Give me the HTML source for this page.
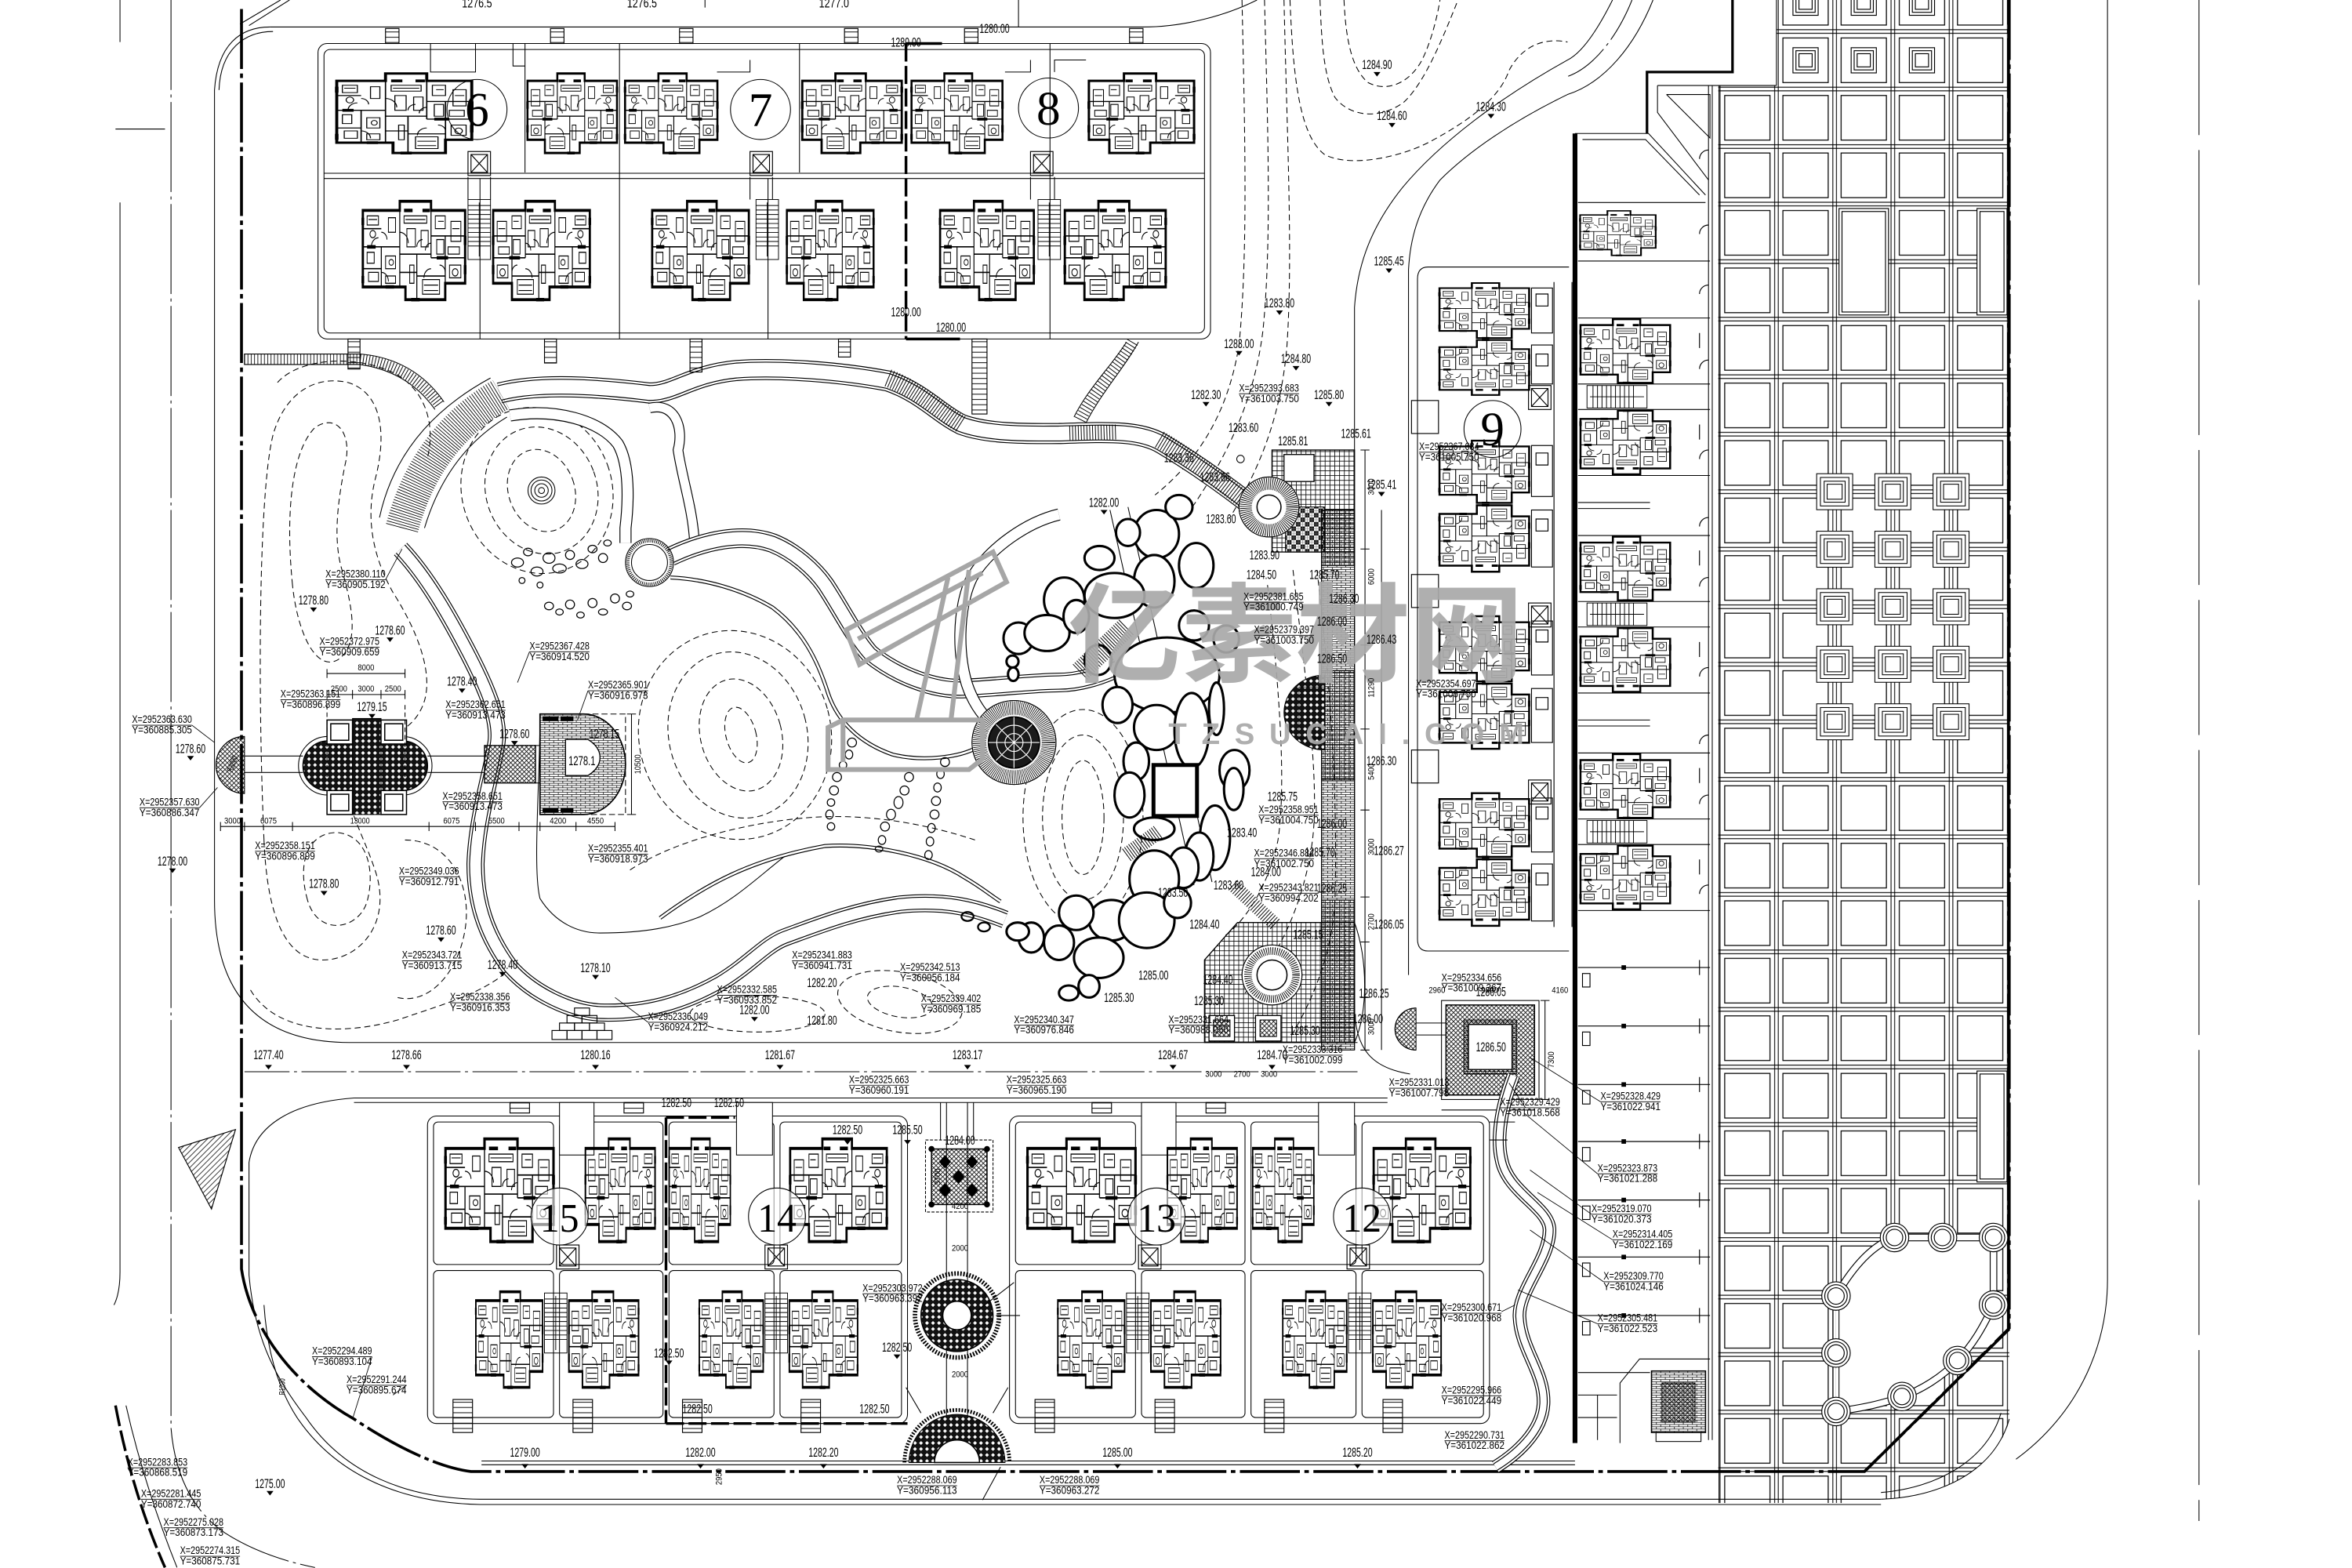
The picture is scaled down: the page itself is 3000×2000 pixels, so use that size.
<!DOCTYPE html>
<html><head><meta charset="utf-8"><title>Residential site plan</title>
<style>
html,body{margin:0;padding:0;background:#fff;overflow:hidden}
svg{display:block}
text{font-family:"Liberation Sans","Noto Sans CJK SC",sans-serif;fill:#000;stroke:none}
.e{font-size:8.5px}
.c{font-size:7.2px}
.d{font-size:6px}
.n{font-family:"Liberation Serif",serif;font-size:32px}
.m{font-family:"Liberation Serif",serif;font-size:27px}
.w{font-family:"Liberation Sans","Noto Sans CJK SC",sans-serif;font-weight:700}
</style></head><body>
<svg xmlns="http://www.w3.org/2000/svg" width="3000" height="2000" viewBox="0 0 1568 1045.33">
<defs>
<pattern id="gc" patternUnits="userSpaceOnUse" x="1145.5" y="21" width="38.8" height="38.35">
<path d="M1.2,0V38.35M37.6,0V38.35M0,1.2H38.8M0,37.15H38.8" stroke="#000" stroke-width="0.55" fill="none"/>
<rect x="4.3" y="4.3" width="30.2" height="29.75" stroke="#000" stroke-width="0.65" fill="none"/>
</pattern>
<pattern id="dia" patternUnits="userSpaceOnUse" width="4" height="4">
<rect width="4" height="4" fill="#111"/><path d="M2,0.7L3.3,2L2,3.3L0.7,2Z" fill="#fff"/>
</pattern>
<pattern id="grd" patternUnits="userSpaceOnUse" width="3.2" height="3.2">
<path d="M0,0.2H3.2M0.2,0V3.2" stroke="#000" stroke-width="0.45" fill="none"/>
</pattern>
<pattern id="xh" patternUnits="userSpaceOnUse" width="3" height="3">
<path d="M0,0L3,3M3,0L0,3" stroke="#000" stroke-width="0.4" fill="none"/>
</pattern>
<pattern id="ht" patternUnits="userSpaceOnUse" width="2.6" height="2.6" patternTransform="rotate(45)">
<path d="M0.3,0V2.6" stroke="#000" stroke-width="0.4" fill="none"/>
</pattern>
<pattern id="brk" patternUnits="userSpaceOnUse" width="6" height="3">
<path d="M0,0.2H6M0,1.7H6M0.2,0.2V1.7M3.2,1.7V3" stroke="#000" stroke-width="0.38" fill="none"/>
</pattern>
<pattern id="chk" patternUnits="userSpaceOnUse" width="6" height="6">
<rect width="6" height="6" fill="#fff"/><rect width="3" height="3" fill="#111"/><rect x="3" y="3" width="3" height="3" fill="#111"/>
<path d="M0,1.5H6M1.5,0V6M0,4.5H6M4.5,0V6" stroke="#777" stroke-width="0.3"/>
</pattern>
<pattern id="vl" patternUnits="userSpaceOnUse" width="2.2" height="10">
<path d="M0.3,0V10" stroke="#000" stroke-width="0.45"/>
</pattern>
<pattern id="hl" patternUnits="userSpaceOnUse" width="10" height="3.5">
<path d="M0,0.3H10" stroke="#000" stroke-width="0.5"/>
</pattern>
<g id="apt" fill="none" stroke="#000">
<path stroke-width="1.6" d="M2,6H28V1H50V6H74V46H60V55H32V48H2Z"/>
<path stroke-width="0.7" d="M28,6V48M50,6V32M2,26H28M50,32H74M28,30H50M60,32V46M15,26V48M40,30V55M40,42H60M2,38H15M2,16H15M50,20H74M60,20V32M28,40H40"/>
<path stroke-width="0.55" d="M5,9h8v5h-8zM31,9h16v4h-16zM53,9h7v7h-7zM64,12h7v11h-7zM35,36h3v10h-3zM18,31h7v7h-7zM5,29h5v6h-5zM44,44h12v8h-12zM63,36h8v7h-8zM20,10h5v8h-5zM54,22h5v8h-5zM6,40h7v5h-7zM18,42h7v4h-7zM62,26h8v4h-8zM33,16h6v10h-6zM43,17h5v9h-5z"/>
<path stroke-width="0.55" d="M28,18a6,6 0 0 1 6,6M50,38a5,5 0 0 0 -5,5M15,40a5,5 0 0 1 5,5M60,40a4,4 0 0 0 -4,-4M8,26a5,5 0 0 1 5,-5M40,26a4,4 0 0 1 4,-4M15,18a4,4 0 0 1 4,4M50,24a4,4 0 0 0 -4,4"/>
<circle cx="9" cy="19" r="2" stroke-width="0.55"/><circle cx="67" cy="40" r="2" stroke-width="0.55"/><circle cx="22" cy="34.5" r="1.6" stroke-width="0.5"/>
<path stroke-width="1.9" d="M31,6h6M44,6h5M5,26h6M54,32h8M2,42v4M74,20v5M36,55h6M2,10v4M74,36v5M18,48h6"/>
<path stroke-width="0.5" d="M6,11h6M32,11h14M55,12h4M65,16h5M45,47h10M45,50h10"/>
</g>
<g id="elev" fill="none" stroke="#000" stroke-width="0.6"><rect width="15" height="16"/><rect x="2" y="2" width="11" height="12"/><path d="M2,2L13,14M13,2L2,14"/></g>
<g id="stair" fill="none" stroke="#000" stroke-width="0.5"><rect width="15" height="40"/><path d="M7.5,2V38M0,4H15M0,7H15M0,10H15M0,13H15M0,16H15M0,19H15M0,22H15M0,25H15M0,28H15M0,31H15"/></g>
<g id="stairh" fill="none" stroke="#000" stroke-width="0.5"><rect width="40" height="15"/><path d="M2,7.5H38M4,0V15M7,0V15M10,0V15M13,0V15M16,0V15M19,0V15M22,0V15M25,0V15M28,0V15M31,0V15"/></g>
<path id="tri" d="M-2.3,0H2.3L0,3Z" fill="#000" stroke="none"/>
<path id="tp" d="M333,262C360,255 400,258 433,262C450,262 460,250 491,247C520,245 560,248 592,254C615,262 625,275 641,283C660,290 690,289 706,289C740,288 760,287 775,296C795,308 815,322 833,336"/>
<path id="lp" d="M340,277C370,272 400,280 412,296C420,310 419,335 417,352L417,362"/>
<path id="lp2" d="M433,272C450,268 456,285 452,300C455,320 462,340 463,362"/>
<path id="us" d="M447,371C470,360 495,355 515,362C530,368 543,380 550,390C560,405 570,425 580,436C600,452 625,460 643,459C665,458 690,455 706,455C720,455 735,450 745,445"/>
<path id="rd" d="M706,343C685,348 660,365 648,385C638,405 638,440 646,460C652,475 660,482 668,488"/>
<path id="le" d="M447,385C470,386 495,393 515,405C535,420 545,440 552,462C558,480 572,495 595,503C615,508 640,505 652,498"/>
<path id="ls" d="M267,366C285,385 300,412 312,435C325,460 333,480 331,495C328,515 318,545 317,576C317,600 323,622 340,645C355,662 380,674 400,675C430,676 455,669 480,655C500,643 510,630 523,625C545,617 570,607 600,603C630,600 650,605 670,613"/>
<path id="ls2" d="M440,612C470,590 500,573 550,564C580,562 620,570 643,585C655,592 662,598 667,601"/>
<path id="cv" d="M1009,717C1000,740 998,760 1001,773C1005,795 1033,805 1033,820C1033,840 1012,860 1013,878C1014,900 1030,915 1029,936C1028,955 1010,970 997,978"/>
<path id="rg" d="M1224,864C1235,845 1248,830 1263,825H1329V870C1322,885 1315,897 1305,907C1295,918 1280,927 1268,931C1255,936 1240,939 1224,941"/>
</defs>

<rect width="1568" height="1046" fill="#fff"/>

<g fill="none" stroke="#000" stroke-width="0.55">

<!-- ============ outer roads / site lines ============ -->
<path d="M80,0V28M80,135V848Q80,862 76,870M77,86H110"/>
<path d="M77,937Q88,995 110,1045" stroke-width="1.8" stroke-dasharray="14 3"/>
<path d="M84,937Q96,990 118,1045"/>
<path d="M114,0V952Q118,1000 150,1022Q175,1038 210,1045" stroke-dasharray="60 3 2 3"/>
<path d="M180,18C160,18 145,30 143,60V600C143,660 170,695 233,695H905"/>
<path d="M182,21C163,21 147,33 146,60"/>
<path d="M180,18H762C790,18 818,10 838,0"/>
<path d="M160,16L187,0M166,17L193,0M679,0V18M420,0V5M470,0V5"/>
<path d="M161,6V846C166,880 190,920 236,946C260,962 290,978 314,981H1243L1339,886V0" stroke-width="1.9" stroke-dasharray="40 3 3 3"/>
<path d="M1155,0V48H1098V89" stroke-width="1.7"/>
<path d="M1405,0V853C1405,935 1340,1000 1254,1003H320C270,1002 225,985 198,945C185,925 178,900 176,870"/>
<path d="M1254,999.5H320C272,999 230,983 204,945"/>
<path d="M1466,0V1014" stroke-dasharray="90 10"/>
<path d="M321,974H1050M321,976.5H1050"/>
<path d="M236,732H925M236,735H925"/>
<path d="M236,732C195,735 170,750 166,775V850C170,895 185,920 204,945"/>
<path d="M163,714.5H905" stroke-dasharray="30 3 2 3"/>
<path d="M1075,0C1065,20 1055,35 1045,40C1000,65 960,95 935,125C915,150 905,175 903,205V670C903,700 915,712 940,716"/>
<path d="M1102,0C1090,30 1070,55 1045,63C1010,80 980,100 960,120C945,140 940,160 939,180V650"/>
<path d="M1088,0C1078,25 1062,45 1045,51" stroke-dasharray="30 3 2 3"/>

<!-- ============ contours (dashed) ============ -->
<g stroke-dasharray="4 2.5" stroke-width="0.55">
<path d="M880,0C881,25 882,50 890,65C900,78 920,80 936,68C950,55 962,25 972,0"/>
<path d="M896,0C897,22 900,45 912,55C925,62 940,55 948,40C954,28 958,12 960,0"/>
<path d="M860,0C862,50 866,90 883,103C900,112 935,105 956,93C980,80 1000,65 1006,47C1015,30 1030,25 1045,28"/>
<path d="M843,0C845,80 848,160 842,220C836,270 815,310 790,345"/>
<path d="M856,0C858,90 862,170 858,230C854,280 838,315 820,345"/>
<path d="M828,0C830,90 832,170 826,230C818,280 795,310 770,330"/>
<path d="M862,380C870,450 880,520 875,560C870,600 852,640 830,662"/>
<path d="M878,380C886,450 892,520 890,600C888,640 872,672 860,692"/>
<path d="M845,390C852,450 858,520 852,560C846,590 830,615 815,625"/>
<path d="M176,560C172,470 172,330 182,290C190,262 210,250 232,255C255,262 258,290 250,320C244,345 248,370 262,395C278,420 290,450 282,470C272,495 245,490 235,510C225,530 240,550 250,580C262,615 240,640 215,640C190,640 178,610 176,560Z"/>
<path d="M195,390C190,340 195,300 210,285C225,275 235,290 230,310C225,335 222,360 228,380C235,405 240,430 225,440C210,448 198,420 195,390Z"/>
<path d="M205,600C198,575 205,555 225,555C245,557 250,580 245,600C240,620 212,625 205,600Z"/>
<path d="M167,660C185,690 230,690 265,680C300,668 330,660 345,640"/>
<path d="M185,255C200,238 240,236 265,250C285,262 290,285 285,305"/>
<path d="M270,560C300,560 315,590 310,620C305,650 285,670 265,665"/>
<ellipse cx="361" cy="327" rx="22" ry="28" transform="rotate(-20 361 327)"/>
<ellipse cx="361" cy="327" rx="37" ry="43" transform="rotate(-20 361 327)"/>
<ellipse cx="358" cy="327" rx="50" ry="56" transform="rotate(-20 358 327)"/>
<ellipse cx="494" cy="490" rx="10" ry="19" transform="rotate(-15 494 490)"/>
<ellipse cx="494" cy="490" rx="27" ry="38" transform="rotate(-15 494 490)"/>
<ellipse cx="492" cy="490" rx="46" ry="56" transform="rotate(-15 492 490)"/>
<ellipse cx="490" cy="490" rx="64" ry="70" transform="rotate(-15 490 490)"/>
<ellipse cx="722" cy="545" rx="14" ry="38"/>
<ellipse cx="722" cy="545" rx="27" ry="55"/>
<ellipse cx="722" cy="545" rx="40" ry="72"/>
<ellipse cx="600" cy="668" rx="22" ry="10" transform="rotate(10 600 668)"/>
<ellipse cx="600" cy="668" rx="42" ry="20" transform="rotate(10 600 668)"/>
<ellipse cx="505" cy="676" rx="45" ry="12"/>
<path d="M420,580C450,560 500,548 540,545C580,542 620,550 650,560"/>
</g>

<!-- ============ park paths ============ -->
<g stroke-linecap="butt" fill="none">
<use href="#tp" stroke="#000" stroke-width="14"/>
<use href="#tp" stroke="#fff" stroke-width="12.8"/>
<use href="#tp" stroke="#000" stroke-width="10.5"/>
<use href="#tp" stroke="#fff" stroke-width="9.3"/>
<path d="M592,252C612,260 625,273 641,283" stroke="#000" stroke-width="12" stroke-dasharray="0.5 1.4"/>
<path d="M773,293C795,306 815,322 833,336" stroke="#000" stroke-width="12" stroke-dasharray="0.5 1.4"/>
<path d="M713,289L745,288" stroke="#000" stroke-width="10" stroke-dasharray="0.5 1.4"/>
<use href="#lp" stroke="#000" stroke-width="8"/>
<use href="#lp" stroke="#fff" stroke-width="6.8"/>
<use href="#lp2" stroke="#000" stroke-width="7"/>
<use href="#lp2" stroke="#fff" stroke-width="5.8"/>
<use href="#us" stroke="#000" stroke-width="13"/>
<use href="#us" stroke="#fff" stroke-width="11.8"/>
<use href="#us" stroke="#000" stroke-width="9.5"/>
<use href="#us" stroke="#fff" stroke-width="8.3"/>
<use href="#rd" stroke="#000" stroke-width="8"/>
<use href="#rd" stroke="#fff" stroke-width="6.8"/>
<use href="#le" stroke="#000" stroke-width="2.6"/>
<use href="#le" stroke="#fff" stroke-width="1.4"/>
<use href="#ls" stroke="#000" stroke-width="12"/>
<use href="#ls" stroke="#fff" stroke-width="10.8"/>
<use href="#ls" stroke="#000" stroke-width="8.5"/>
<use href="#ls" stroke="#fff" stroke-width="7.3"/>
<use href="#ls2" stroke="#000" stroke-width="2.6"/>
<use href="#ls2" stroke="#fff" stroke-width="1.4"/>
<path d="M360,478C360,520 355,580 360,599C370,615 385,622 400,622C430,622 450,618 467,611C490,600 505,585 523,571" stroke="#000" stroke-width="0.55"/>
<path d="M740,340L796,590M752,338L808,588" stroke="#000" stroke-width="0.55"/>
</g>

<path d="M268,352Q284,292 334,263" stroke-width="22" stroke-dasharray="0.45 1.3"/>
<path d="M253,345Q266,285 327,252M283,352Q298,302 338,278"/>
<rect x="163" y="236" width="77" height="7" fill="url(#vl)"/>
<rect x="163" y="236" width="77" height="7"/>
<path d="M240,239.5C262,242 280,252 293,270" stroke-width="7" stroke-dasharray="0.5 1.5"/>
<path d="M240,236C264,238 283,249 296,268M240,243C261,246 278,256 290,273"/>
<path d="M755,228C745,245 730,260 720,280" stroke-width="8" stroke-dasharray="0.5 1.8"/>
<path d="M759,228C749,246 734,262 724,282M751,228C741,244 726,258 716,278"/>

<circle cx="361" cy="327" r="2"/><circle cx="361" cy="327" r="4.5"/><circle cx="361" cy="327" r="7"/><circle cx="361" cy="327" r="9"/>

<circle cx="433" cy="375" r="14.5" fill="#fff" stroke-width="2.2" stroke-dasharray="0.5 0.8"/>
<circle cx="433" cy="375" r="12" fill="#fff"/>
<circle cx="433" cy="375" r="16"/>

<g stroke-width="0.65">
<ellipse cx="345" cy="375" rx="4" ry="3"/><ellipse cx="352" cy="368" rx="3" ry="2.5"/><ellipse cx="358" cy="381" rx="4" ry="3"/><ellipse cx="366" cy="372" rx="4" ry="3.5"/><ellipse cx="373" cy="379" rx="4.5" ry="3"/><ellipse cx="380" cy="370" rx="3" ry="3"/><ellipse cx="388" cy="376" rx="4" ry="3"/><ellipse cx="395" cy="366" rx="3" ry="2.5"/><ellipse cx="402" cy="372" rx="3" ry="3"/><ellipse cx="405" cy="362" rx="2.5" ry="2"/><ellipse cx="348" cy="387" rx="2" ry="2"/><ellipse cx="360" cy="390" rx="2" ry="2"/>
<ellipse cx="366" cy="404" rx="3" ry="2.5"/><ellipse cx="373" cy="408" rx="2.5" ry="2"/><ellipse cx="380" cy="403" rx="3" ry="3"/><ellipse cx="387" cy="410" rx="2.5" ry="2"/><ellipse cx="395" cy="402" rx="3" ry="3"/><ellipse cx="402" cy="408" rx="3" ry="2"/><ellipse cx="410" cy="399" rx="3" ry="3"/><ellipse cx="418" cy="404" rx="3" ry="2.5"/><ellipse cx="420" cy="396" rx="2.5" ry="2"/>
<ellipse cx="568" cy="495" rx="3" ry="3"/><ellipse cx="566" cy="503" rx="2.5" ry="3"/><ellipse cx="562" cy="510" rx="2.5" ry="2.5"/><ellipse cx="558" cy="518" rx="3" ry="3"/><ellipse cx="556" cy="527" rx="3" ry="3"/><ellipse cx="554" cy="535" rx="2.5" ry="2.5"/><ellipse cx="553" cy="543" rx="2.5" ry="3"/><ellipse cx="554" cy="551" rx="2.5" ry="2.5"/>
<ellipse cx="606" cy="518" rx="3" ry="3"/><ellipse cx="603" cy="527" rx="3" ry="3"/><ellipse cx="599" cy="535" rx="3" ry="4"/><ellipse cx="594" cy="543" rx="3" ry="3.5"/><ellipse cx="590" cy="551" rx="3" ry="3"/><ellipse cx="588" cy="560" rx="2.5" ry="3"/><ellipse cx="586" cy="566" rx="2.5" ry="2"/>
<ellipse cx="630" cy="508" rx="3" ry="3"/><ellipse cx="627" cy="516" rx="2.5" ry="3"/><ellipse cx="625" cy="525" rx="2.5" ry="3"/><ellipse cx="624" cy="534" rx="3" ry="3"/><ellipse cx="623" cy="543" rx="3" ry="3"/><ellipse cx="621" cy="552" rx="2.5" ry="3"/><ellipse cx="620" cy="561" rx="2.5" ry="3"/><ellipse cx="619" cy="570" rx="2.5" ry="3"/>
<ellipse cx="645" cy="611" rx="4" ry="3" stroke-width="1.2"/><ellipse cx="656" cy="618" rx="4" ry="3" stroke-width="1.2"/>
</g>

<!-- ============ left pavilion ============ -->
<path d="M163,491A19,19 0 0 0 163,529Z" fill="url(#xh)"/>
<path d="M163,491A19,19 0 0 0 163,529"/>
<path d="M163,504H202M163,515H202M285,504H323M285,515H323"/>
<rect x="199" y="491" width="89" height="39" rx="19.5"/>
<rect x="202" y="494" width="83" height="33" rx="16.5" fill="url(#dia)" stroke-width="0.8"/>
<rect x="235" y="479" width="19" height="64" fill="url(#dia)"/>
<g stroke-width="0.8">
<rect x="218" y="480" width="17" height="16" fill="#fff"/><rect x="220.5" y="482.5" width="12" height="11"/>
<rect x="254" y="480" width="17" height="16" fill="#fff"/><rect x="256.5" y="482.5" width="12" height="11"/>
<rect x="218" y="527" width="17" height="16" fill="#fff"/><rect x="220.5" y="529.5" width="12" height="11"/>
<rect x="254" y="527" width="17" height="16" fill="#fff"/><rect x="256.5" y="529.5" width="12" height="11"/>
</g>
<rect x="323" y="497" width="34" height="25" fill="url(#xh)" stroke-width="0.7"/>
<rect x="357" y="497" width="3" height="25"/>
<path d="M360,476H389A28,33.5 0 0 1 389,543H360Z" fill="url(#brk)" stroke-width="0.9"/>
<path d="M377,493H392Q400,498 400,505Q400,512 392,517H377Z" fill="#fff" stroke-width="0.7"/>
<rect x="362" y="478" width="10" height="2.5" fill="#000"/><rect x="374" y="478" width="8" height="2.5" fill="#000"/><rect x="362" y="539" width="10" height="2.5" fill="#000"/><rect x="374" y="539" width="8" height="2.5" fill="#000"/>
<path d="M389,476H417V543H389" stroke-dasharray="4 2"/>
<path d="M421,476V543M418,476H424M418,543H424"/>
<path d="M147,551H410M147,548V554M163,548V554M195,548V554M286,548V554M317,548V554M346,548V554M360,548V554M384,548V554M410,548V554"/>
<path d="M218,463H270M218,460V466M235,460V466M254,460V466M270,460V466M218,449H270M218,446V452M270,446V452"/>
<path d="M218,470V520M270,470V520" stroke-dasharray="3 2"/>

<g stroke-width="0.6">
<rect x="383" y="672" width="10" height="5"/>
<rect x="378" y="677" width="10" height="5"/><rect x="388" y="677" width="10" height="5"/>
<rect x="373" y="682" width="10" height="5"/><rect x="383" y="682" width="10" height="5"/><rect x="393" y="682" width="10" height="5"/>
<rect x="368" y="687" width="10" height="6"/><rect x="378" y="687" width="10" height="6"/><rect x="388" y="687" width="10" height="6"/><rect x="398" y="687" width="10" height="6"/>
</g>

<!-- ============ round plaza ============ -->
<circle cx="676" cy="495" r="28" fill="#fff"/>
<circle cx="676" cy="495" r="23" stroke-width="9" stroke-dasharray="0.4 0.75"/>
<circle cx="676" cy="495" r="17" fill="#1a1a1a" stroke-width="1"/>
<g stroke="#fff" stroke-width="0.6"><circle cx="676" cy="495" r="6"/><circle cx="676" cy="495" r="11.5"/><path d="M676,478V512M659,495H693M664,483L688,507M688,483L664,507"/></g>
<circle cx="676" cy="495" r="28"/>

<!-- ============ rockery ============ -->
<g fill="#fff" stroke-width="1.6" stroke-linejoin="round">
<ellipse cx="771" cy="356" rx="15" ry="16"/><ellipse cx="797.5" cy="377" rx="11.5" ry="15"/><ellipse cx="769.5" cy="387.5" rx="13.5" ry="17.5"/><ellipse cx="733" cy="372" rx="10" ry="8"/><ellipse cx="709.5" cy="400" rx="13.5" ry="15"/><ellipse cx="743" cy="397" rx="20" ry="15"/><ellipse cx="679" cy="425.5" rx="10" ry="10.5"/><ellipse cx="675" cy="441" rx="4" ry="4"/><ellipse cx="675.5" cy="449.5" rx="3.5" ry="4.5"/><ellipse cx="698" cy="422" rx="15" ry="12"/><ellipse cx="717.5" cy="411" rx="8.5" ry="11"/><ellipse cx="796" cy="417" rx="10" ry="10"/><ellipse cx="817.5" cy="426" rx="8.5" ry="9"/><ellipse cx="778" cy="450" rx="35" ry="25"/><ellipse cx="771" cy="485" rx="15" ry="15"/><ellipse cx="794.5" cy="487" rx="11.5" ry="25"/><ellipse cx="811" cy="472.5" rx="5" ry="17.5"/><ellipse cx="757.5" cy="507.5" rx="8.5" ry="12.5"/><ellipse cx="823" cy="513.5" rx="10" ry="13.5"/><ellipse cx="753" cy="530" rx="10" ry="15"/><ellipse cx="822.5" cy="526" rx="6.5" ry="14"/><ellipse cx="810" cy="558.5" rx="10" ry="21.5"/><ellipse cx="799.5" cy="571" rx="9.5" ry="16"/><ellipse cx="769.5" cy="552.5" rx="13.5" ry="7.5"/><ellipse cx="789" cy="578.5" rx="10" ry="13.5"/><ellipse cx="769.5" cy="586" rx="16.5" ry="19"/><ellipse cx="741" cy="613.5" rx="15" ry="13.5"/><ellipse cx="717.5" cy="608.5" rx="11.5" ry="11.5"/><ellipse cx="706" cy="628.5" rx="10" ry="11.5"/><ellipse cx="687.5" cy="625" rx="8.5" ry="10"/><ellipse cx="678.5" cy="621" rx="7.5" ry="6"/><ellipse cx="732.5" cy="638.5" rx="16.5" ry="13.5"/><ellipse cx="726" cy="657.5" rx="7" ry="7.5"/><ellipse cx="712.5" cy="662" rx="6.5" ry="5"/><ellipse cx="764.5" cy="613.5" rx="18.5" ry="18.5"/><ellipse cx="745" cy="470" rx="10" ry="12"/><ellipse cx="732" cy="440" rx="9" ry="10"/>
<ellipse cx="786" cy="338" rx="9" ry="8"/><ellipse cx="752" cy="355" rx="8" ry="9"/><ellipse cx="785" cy="602" rx="9" ry="10"/>
</g>
<rect x="769" y="510" width="29" height="34" fill="#fff" stroke-width="2.6"/>
<path d="M720,448L751,418" stroke-width="14" stroke-dasharray="0.5 1.2"/>
<path d="M751,570L773,554" stroke-width="10" stroke-dasharray="0.5 1.2"/>
<path d="M822,590L851,617" stroke-width="9" stroke-dasharray="0.5 1.3"/>

<!-- ============ plazas right of rockery ============ -->
<rect x="848" y="300" width="55" height="68" fill="url(#grd)" stroke-width="0.7"/>
<rect x="857" y="338" width="26" height="30" fill="url(#chk)"/>
<rect x="856" y="303" width="20" height="18" fill="#fff" stroke-width="0.7"/>
<circle cx="846" cy="338" r="20" fill="#fff"/>
<circle cx="846" cy="338" r="15.5" stroke-width="8" stroke-dasharray="0.45 0.8"/>
<circle cx="846" cy="338" r="8" fill="#fff" stroke-width="0.8"/>
<circle cx="846" cy="338" r="20"/>
<circle cx="827" cy="306" r="2.5"/>
<rect x="881" y="340" width="22" height="360" fill="url(#brk)"/>
<path d="M881,340V700M903,340V700"/>
<rect x="881" y="340" width="22" height="37" fill="url(#grd)"/>
<rect x="881" y="447" width="22" height="73" fill="url(#grd)"/>
<rect x="881" y="600" width="22" height="95" fill="url(#grd)"/>
<path d="M883,450A27,25 0 0 0 883,500Z" fill="url(#dia)"/>
<rect x="866" y="458" width="17" height="34" fill="url(#dia)" opacity="0.8"/>
<path d="M803,640L825,615H903V695H803Z" fill="url(#grd)" stroke-width="0.7"/>
<circle cx="848" cy="650" r="20" fill="#fff"/>
<circle cx="848" cy="650" r="16" stroke-width="5" stroke-dasharray="0.5 0.9"/>
<circle cx="848" cy="650" r="10" fill="#fff" stroke-width="0.8"/>
<circle cx="848" cy="650" r="20"/>
<rect x="806" y="677" width="17" height="17" fill="#fff" stroke-width="0.7"/><rect x="809" y="680" width="11" height="11" fill="url(#xh)"/>
<rect x="837" y="677" width="17" height="17" fill="#fff" stroke-width="0.7"/><rect x="840" y="680" width="11" height="11" fill="url(#xh)"/>
<path d="M903,615C912,640 912,675 903,695"/>
<path d="M910,300V700M907,300H913M907,366H913M907,430H913M907,486H913M907,540H913M907,598H913M907,628H913M907,665H913M907,700H913M921,340V700"/>

<path d="M944,672A14,14 0 0 0 944,700Z" fill="url(#xh)"/>
<path d="M944,672A14,14 0 0 0 944,700"/>
<path d="M944,682H964M944,690H964"/>
<rect x="964" y="670" width="59" height="60" fill="url(#xh)" stroke-width="0.8"/>
<rect x="961" y="667" width="65" height="66"/>
<rect x="976" y="680" width="35" height="36" fill="url(#brk)"/>
<rect x="979" y="683" width="29" height="30" fill="#fff" stroke-width="0.7"/>
<path d="M1030,667V733M1027,667H1033M1027,733H1033M961,740H1023"/>

<!-- ============ top building lot (6,7,8) ============ -->
<rect x="212" y="29" width="595" height="197" rx="6"/>
<rect x="216" y="33" width="587" height="189" rx="4"/>
<path d="M216,115.5H803M216,119H803M413,29V226M700,29V226M320,119V226M512,119V226M350,29V115M533,29V115"/>
<path d="M604,29V226" stroke-width="1.8" stroke-dasharray="12 3"/>
<path d="M604,29H628M604,226H640" stroke-width="1.8"/>
<use href="#apt" transform="translate(222,48) scale(1.25,0.982)"/>
<use href="#apt" transform="translate(413,48) scale(-0.829,0.982)"/>
<use href="#apt" transform="translate(415,48) scale(0.855,0.982)"/>
<use href="#apt" transform="translate(603,48) scale(-0.921,0.982)"/>
<use href="#apt" transform="translate(606,48) scale(0.842,0.982)"/>
<use href="#apt" transform="translate(798,48) scale(-0.974,0.982)"/>
<use href="#apt" transform="translate(240,133) scale(0.947,1.214)"/>
<use href="#apt" transform="translate(395,133) scale(-0.895,1.214)"/>
<use href="#apt" transform="translate(433,133) scale(0.895,1.214)"/>
<use href="#apt" transform="translate(584,133) scale(-0.803,1.214)"/>
<use href="#apt" transform="translate(625,133) scale(0.868,1.214)"/>
<use href="#apt" transform="translate(779,133) scale(-0.934,1.214)"/>
<use href="#elev" transform="translate(312,101)"/>
<use href="#elev" transform="translate(500,101)"/>
<use href="#elev" transform="translate(687,101)"/>
<use href="#stair" transform="translate(312,133)"/>
<use href="#stair" transform="translate(504,133)"/>
<use href="#stair" transform="translate(692,133)"/>
<path d="M287,29V48H317V29M342,29V44H350M478,48H500V40M670,48H687V40M703,48V40H724"/>
<path d="M312,118V133M327,118V133M500,118V133M515,118V133M687,118V133M703,118V133"/>
<circle cx="318" cy="73" r="20"/><circle cx="507" cy="73" r="20"/><circle cx="699" cy="72" r="20"/>
<g fill="url(#hl)" stroke-width="0.6">
<rect x="257" y="19" width="9" height="10"/><rect x="367" y="19" width="9" height="10"/><rect x="453" y="19" width="9" height="10"/><rect x="563" y="19" width="9" height="10"/><rect x="643" y="19" width="9" height="10"/><rect x="753" y="19" width="9" height="10"/>
<rect x="232" y="226" width="8" height="20"/><rect x="363" y="226" width="8" height="16"/><rect x="460" y="226" width="8" height="22"/><rect x="559" y="226" width="8" height="12"/><rect x="648" y="226" width="10" height="50"/>
<rect x="302" y="933" width="13" height="22"/><rect x="382" y="933" width="13" height="22"/><rect x="455" y="933" width="13" height="22"/><rect x="534" y="933" width="13" height="22"/><rect x="690" y="933" width="13" height="22"/><rect x="770" y="933" width="13" height="22"/><rect x="843" y="933" width="13" height="22"/><rect x="922" y="933" width="13" height="22"/>
<rect x="340" y="735" width="13" height="7"/><rect x="416" y="735" width="13" height="7"/><rect x="728" y="735" width="13" height="7"/><rect x="804" y="735" width="13" height="7"/>
</g>

<!-- ============ bottom lots ============ -->
<rect x="285" y="744" width="320" height="205" rx="6"/>
<rect x="673" y="744" width="320" height="205" rx="6"/>
<g>
<rect x="289" y="748" width="80" height="95" rx="3"/><rect x="373" y="748" width="69" height="95" rx="3"/><rect x="446" y="748" width="70" height="95" rx="3"/><rect x="520" y="748" width="81" height="95" rx="3"/>
<rect x="289" y="847" width="80" height="98" rx="3"/><rect x="373" y="847" width="69" height="98" rx="3"/><rect x="446" y="847" width="70" height="98" rx="3"/><rect x="520" y="847" width="81" height="98" rx="3"/>
<rect x="677" y="748" width="80" height="95" rx="3"/><rect x="761" y="748" width="69" height="95" rx="3"/><rect x="834" y="748" width="70" height="95" rx="3"/><rect x="908" y="748" width="81" height="95" rx="3"/>
<rect x="677" y="847" width="80" height="98" rx="3"/><rect x="761" y="847" width="69" height="98" rx="3"/><rect x="834" y="847" width="70" height="98" rx="3"/><rect x="908" y="847" width="81" height="98" rx="3"/>
</g>
<path d="M444,745V949M444,745H490M444,949H605" stroke-width="1.8" stroke-dasharray="12 3"/>
<rect x="373" y="735" width="23" height="35" fill="#fff"/><rect x="491" y="735" width="24" height="35" fill="#fff"/><rect x="761" y="735" width="23" height="35" fill="#fff"/><rect x="879" y="735" width="24" height="35" fill="#fff"/>
<use href="#apt" transform="translate(295,758) scale(1,1.268)"/>
<use href="#apt" transform="translate(438,758) scale(-0.645,1.268)"/>
<use href="#apt" transform="translate(316,860) scale(0.618,1.18)"/>
<use href="#apt" transform="translate(427,860) scale(-0.645,1.18)"/>
<use href="#apt" transform="translate(445,758) scale(0.566,1.268)"/>
<use href="#apt" transform="translate(593,758) scale(-0.895,1.268)"/>
<use href="#apt" transform="translate(465,860) scale(0.592,1.18)"/>
<use href="#apt" transform="translate(573,860) scale(-0.632,1.18)"/>
<use href="#apt" transform="translate(683,758) scale(1,1.268)"/>
<use href="#apt" transform="translate(826,758) scale(-0.645,1.268)"/>
<use href="#apt" transform="translate(704,860) scale(0.618,1.18)"/>
<use href="#apt" transform="translate(815,860) scale(-0.645,1.18)"/>
<use href="#apt" transform="translate(834,758) scale(0.566,1.268)"/>
<use href="#apt" transform="translate(982,758) scale(-0.895,1.268)"/>
<use href="#apt" transform="translate(854,860) scale(0.592,1.18)"/>
<use href="#apt" transform="translate(962,860) scale(-0.632,1.18)"/>
<use href="#elev" transform="translate(371,830)"/><use href="#elev" transform="translate(510,830)"/><use href="#elev" transform="translate(759,830)"/><use href="#elev" transform="translate(898,830)"/>
<use href="#stair" transform="translate(363,862)"/><use href="#stair" transform="translate(510,862)"/><use href="#stair" transform="translate(751,862)"/><use href="#stair" transform="translate(899,862)"/>
<circle cx="373" cy="811" r="19" fill="#fff" fill-opacity="0.6"/><circle cx="518" cy="811" r="19" fill="#fff" fill-opacity="0.6"/><circle cx="771" cy="811" r="19" fill="#fff" fill-opacity="0.6"/><circle cx="908" cy="811" r="19" fill="#fff" fill-opacity="0.6"/>

<path d="M631,735V968M645,735V968M627,735V760M649,735V760"/>
<rect x="617" y="760" width="45" height="48" stroke-dasharray="2 1"/>
<rect x="621" y="766" width="37" height="37" fill="url(#xh)" stroke-width="0.8"/>
<g fill="#000" stroke="none"><path d="M630,770l4,4.5l-4,4.5l-4,-4.5z"/><path d="M648,770l4,4.5l-4,4.5l-4,-4.5z"/><path d="M630,789l4,4.5l-4,4.5l-4,-4.5z"/><path d="M648,789l4,4.5l-4,4.5l-4,-4.5z"/><path d="M639,780l4,4.5l-4,4.5l-4,-4.5z"/>
<circle cx="621" cy="766" r="2"/><circle cx="658" cy="766" r="2"/><circle cx="621" cy="803" r="2"/><circle cx="658" cy="803" r="2"/></g>
<circle cx="638" cy="877" r="28" stroke-width="3" stroke-dasharray="1 1"/>
<circle cx="638" cy="877" r="24" fill="url(#dia)" stroke-width="0.8"/>
<circle cx="638" cy="877" r="9.5" fill="#fff" stroke-width="0.8"/>
<path d="M603,975A35,35 0 0 1 673,975" stroke-width="2.5" stroke-dasharray="1 1"/>
<path d="M606,975A32,32 0 0 1 670,975Z" fill="url(#dia)"/>
<path d="M623,975A15,15 0 0 1 653,975Z" fill="#fff" stroke-width="0.8"/>
<path d="M614,942L604,925M662,942L672,925M667,978L655,1000"/>
<path d="M650,875L676,855M664,877H680"/>

<path d="M119,765L157,753L141,806Z" fill="url(#ht)" stroke-width="0.6"/>

<g fill="none">
<use href="#cv" stroke="#000" stroke-width="9"/>
<use href="#cv" stroke="#fff" stroke-width="7.8"/>
<use href="#cv" stroke="#000" stroke-width="5.5"/>
<use href="#cv" stroke="#fff" stroke-width="4.3"/>
</g>
<path d="M993,748H1010M993,760H1005"/>

<!-- ============ building 9 ============ -->
<path d="M945,186Q945,178 952,178H1046M945,186V626Q945,634 952,634H1046"/>
<use href="#apt" transform="translate(958,188) scale(0.83,0.679)"/>
<use href="#apt" transform="translate(958,264) scale(0.83,-0.679)"/>
<use href="#apt" transform="translate(958,293) scale(0.83,0.768)"/>
<use href="#apt" transform="translate(958,382) scale(0.83,-0.821)"/>
<use href="#apt" transform="translate(958,410) scale(0.83,0.804)"/>
<use href="#apt" transform="translate(958,500) scale(0.83,-0.804)"/>
<use href="#apt" transform="translate(958,528) scale(0.83,0.786)"/>
<use href="#apt" transform="translate(958,618) scale(0.83,-0.821)"/>
<g stroke-width="0.6">
<rect x="1021" y="192" width="14" height="30"/><rect x="1021" y="230" width="14" height="26"/><rect x="1021" y="297" width="14" height="34"/><rect x="1021" y="340" width="14" height="38"/><rect x="1021" y="414" width="14" height="36"/><rect x="1021" y="459" width="14" height="36"/><rect x="1021" y="532" width="14" height="36"/><rect x="1021" y="576" width="14" height="38"/>
<path d="M1024,196h8v8h-8zM1024,236h8v8h-8zM1024,302h8v8h-8zM1024,346h8v8h-8zM1024,420h8v8h-8zM1024,465h8v8h-8zM1024,538h8v8h-8zM1024,582h8v8h-8z"/>
<path d="M1036,188V618M1048,188V618"/>
<rect x="941" y="267" width="18" height="22"/><rect x="941" y="383" width="18" height="22"/><rect x="941" y="500" width="18" height="22"/>
</g>
<use href="#elev" transform="translate(1019,257)"/><use href="#elev" transform="translate(1019,402)"/><use href="#elev" transform="translate(1019,520)"/>
<circle cx="995" cy="286" r="19"/>

<!-- ============ right strip ============ -->
<path d="M1050,89V962" stroke-width="3.2"/>
<path d="M1050,89H1099L1137,130M1055,93H1097L1133,130"/>
<path d="M1139,57V960M1141.5,57V960M1146,57V1002"/>
<path d="M1052,135H1137M1052,174H1140M1052,212H1140M1052,256H1140M1052,273H1140M1052,317H1140M1052,357H1140M1052,401H1140M1052,418H1140M1052,462H1140M1052,502H1140M1052,546H1140M1052,563H1140M1052,607H1140M1052,335H1100M1052,339H1100M1052,480H1100M1052,484H1100"/>
<use href="#apt" transform="translate(1052,140) scale(0.7,0.55)"/>
<use href="#apt" transform="translate(1052,212) scale(0.83,0.786)"/>
<use href="#apt" transform="translate(1052,317) scale(0.83,-0.786)"/>
<use href="#apt" transform="translate(1052,357) scale(0.83,0.786)"/>
<use href="#apt" transform="translate(1052,462) scale(0.83,-0.786)"/>
<use href="#apt" transform="translate(1052,502) scale(0.83,0.786)"/>
<use href="#apt" transform="translate(1052,607) scale(0.83,-0.786)"/>
<use href="#stairh" transform="translate(1058,257)"/><use href="#stairh" transform="translate(1058,402)"/><use href="#stairh" transform="translate(1058,547)"/>
<g stroke-width="0.6">
<path d="M1052,645H1140M1052,684H1140M1052,723H1140M1052,761H1140M1052,800H1140M1052,838H1140M1052,877H1140M1052,915H1100"/>
<rect x="1055" y="649" width="5" height="9"/><rect x="1055" y="688" width="5" height="9"/><rect x="1055" y="727" width="5" height="9"/><rect x="1055" y="765" width="5" height="9"/><rect x="1055" y="804" width="5" height="9"/><rect x="1055" y="842" width="5" height="9"/><rect x="1055" y="881" width="5" height="9"/>
<path d="M1133,640V650M1133,679V689M1133,718V728M1133,756V766M1133,795V805M1133,833V843M1133,872V882M1133,222V232M1133,283V293M1133,367V377M1133,428V438M1133,512V522M1133,573V583"/>
<path d="M1139,100a6,6 0 0 0 -6,6M1139,150a6,6 0 0 0 -6,6M1139,190a6,6 0 0 0 -6,6M1139,240a6,6 0 0 0 -6,6M1139,300a6,6 0 0 0 -6,6M1139,345a6,6 0 0 0 -6,6M1139,385a6,6 0 0 0 -6,6M1139,445a6,6 0 0 0 -6,6M1139,490a6,6 0 0 0 -6,6M1139,530a6,6 0 0 0 -6,6M1139,590a6,6 0 0 0 -6,6"/>
</g>
<g fill="#000" stroke="none"><rect x="1081" y="643.5" width="3" height="3"/><rect x="1081" y="682.5" width="3" height="3"/><rect x="1081" y="721.5" width="3" height="3"/><rect x="1081" y="759.5" width="3" height="3"/><rect x="1081" y="798.5" width="3" height="3"/><rect x="1081" y="836.5" width="3" height="3"/><rect x="1081" y="875.5" width="3" height="3"/></g>
<path d="M1080,962V922L1093,906H1140"/>
<rect x="1101" y="914" width="36" height="41" fill="url(#brk)" stroke-width="0.8"/>
<rect x="1108" y="922" width="22" height="26" fill="url(#xh)"/>
<rect x="1104" y="955" width="30" height="6"/>
<path d="M1052,930H1078M1052,945H1078M1065,930V960"/>

<!-- ============ paving grid ============ -->
<rect x="1145.5" y="57" width="194" height="945" fill="url(#gc)" stroke="none"/>
<rect x="1184.3" y="0" width="155.2" height="57" fill="url(#gc)" stroke="none"/>
<path d="M1105,57H1184.3M1105,57V75L1139,120M1111,63H1140V92L1111,63"/>
<path d="M1184.3,0V57"/>
<g stroke-width="0.6">
<rect x="1195.3" y="31.8" width="16.8" height="16.8"/><rect x="1197.3" y="33.8" width="12.8" height="12.8"/><rect x="1199.3" y="35.8" width="8.8" height="8.8"/>
<rect x="1234.1" y="31.8" width="16.8" height="16.8"/><rect x="1236.1" y="33.8" width="12.8" height="12.8"/><rect x="1238.1" y="35.8" width="8.8" height="8.8"/>
<rect x="1272.9" y="31.8" width="16.8" height="16.8"/><rect x="1274.9" y="33.8" width="12.8" height="12.8"/><rect x="1276.9" y="35.8" width="8.8" height="8.8"/>
<rect x="1195.3" y="-6.6" width="16.8" height="16.8"/><rect x="1197.3" y="-4.6" width="12.8" height="12.8"/><rect x="1199.3" y="-2.6" width="8.8" height="8.8"/>
<rect x="1234.1" y="-6.6" width="16.8" height="16.8"/><rect x="1236.1" y="-4.6" width="12.8" height="12.8"/><rect x="1238.1" y="-2.6" width="8.8" height="8.8"/>
<rect x="1272.9" y="-6.6" width="16.8" height="16.8"/><rect x="1274.9" y="-4.6" width="12.8" height="12.8"/><rect x="1276.9" y="-2.6" width="8.8" height="8.8"/>
</g>
<g stroke-width="0.6">
<rect x="1226" y="139" width="33" height="71" fill="#fff"/><rect x="1228" y="141" width="29" height="67"/>
<rect x="1318" y="139" width="20" height="71" fill="#fff"/><rect x="1320" y="141" width="16" height="67"/>
<rect x="1318" y="714" width="20" height="74" fill="#fff"/><rect x="1320" y="716" width="16" height="70"/>
</g>
<g id="orn" stroke-width="0.55">
<rect x="1211.1" y="315.8" width="24" height="24" fill="#fff"/><rect x="1213.6" y="318.3" width="19" height="19" fill="#fff"/><rect x="1216.1" y="320.8" width="14" height="14"/><rect x="1218.1" y="322.8" width="10" height="10"/>
<rect x="1249.9" y="315.8" width="24" height="24" fill="#fff"/><rect x="1252.4" y="318.3" width="19" height="19" fill="#fff"/><rect x="1254.9" y="320.8" width="14" height="14"/><rect x="1256.9" y="322.8" width="10" height="10"/>
<rect x="1288.7" y="315.8" width="24" height="24" fill="#fff"/><rect x="1291.2" y="318.3" width="19" height="19" fill="#fff"/><rect x="1293.7" y="320.8" width="14" height="14"/><rect x="1295.7" y="322.8" width="10" height="10"/>
</g>
<use href="#orn" transform="translate(0,38.35)"/>
<use href="#orn" transform="translate(0,76.7)"/>
<use href="#orn" transform="translate(0,115.05)"/>
<use href="#orn" transform="translate(0,153.4)"/>
<path d="M1224,864C1235,845 1248,830 1263,825H1329V870L1305,907L1268,931L1224,941Z" fill="#fff" stroke="none"/>
<g fill="none">
<use href="#rg" stroke="#000" stroke-width="5"/>
<use href="#rg" stroke="#fff" stroke-width="3.8"/>
</g>
<path d="M1222,864V941M1226,864V941"/>
<g stroke-width="0.6">
<circle cx="1263" cy="825" r="9.5" fill="#fff"/><circle cx="1263" cy="825" r="7.5"/><circle cx="1263" cy="825" r="5.5"/>
<circle cx="1295" cy="825" r="9.5" fill="#fff"/><circle cx="1295" cy="825" r="7.5"/><circle cx="1295" cy="825" r="5.5"/>
<circle cx="1329" cy="825" r="9.5" fill="#fff"/><circle cx="1329" cy="825" r="7.5"/><circle cx="1329" cy="825" r="5.5"/>
<circle cx="1224" cy="864" r="9.5" fill="#fff"/><circle cx="1224" cy="864" r="7.5"/><circle cx="1224" cy="864" r="5.5"/>
<circle cx="1329" cy="870" r="9.5" fill="#fff"/><circle cx="1329" cy="870" r="7.5"/><circle cx="1329" cy="870" r="5.5"/>
<circle cx="1224" cy="902" r="9.5" fill="#fff"/><circle cx="1224" cy="902" r="7.5"/><circle cx="1224" cy="902" r="5.5"/>
<circle cx="1305" cy="907" r="9.5" fill="#fff"/><circle cx="1305" cy="907" r="7.5"/><circle cx="1305" cy="907" r="5.5"/>
<circle cx="1268" cy="931" r="9.5" fill="#fff"/><circle cx="1268" cy="931" r="7.5"/><circle cx="1268" cy="931" r="5.5"/>
<circle cx="1224" cy="941" r="9.5" fill="#fff"/><circle cx="1224" cy="941" r="7.5"/><circle cx="1224" cy="941" r="5.5"/>
</g>
<path d="M1341,940C1336,975 1300,998 1254,999.5L1254,1004H1344V940Z" fill="#fff" stroke="none"/>
<path d="M1339.5,946C1330,980 1295,998 1254,999.5M1334,942C1325,973 1292,992 1254,995"/>
<path d="M1339.5,886L1243,981" stroke-width="1.9" stroke-dasharray="40 3 3 3"/>
<path d="M1339.5,0V886" stroke-width="1.9" stroke-dasharray="40 3 3 3"/>

<!-- ============ watermark ============ -->
<g stroke="#a6a6a6" stroke-width="3.2" fill="none" stroke-linejoin="miter">
<path d="M564,420L662,368L671,388L573,443Z"/>
<path d="M572,426L655,382"/>
<path d="M632,385L611,480M646,380L634,480"/>
<path d="M552,485L562,480H655V506L646,513H552Z"/>
<path d="M562,480V508M552,513V490"/>
</g>
<text class="w" x="712" y="449" font-size="72" textLength="304" lengthAdjust="spacingAndGlyphs" style="fill:#a8a8a8;fill-opacity:0.92">亿素材网</text>
<text class="w" x="779" y="496" font-size="20" textLength="237" lengthAdjust="spacing" style="fill:#a8a8a8;fill-opacity:0.92">TZSUCAI.COM</text>
</g>

<!-- ============ big numbers ============ -->
<g text-anchor="middle">
<text class="n" x="318" y="84">6</text>
<text class="n" x="507" y="84">7</text>
<text class="n" x="699" y="83">8</text>
<text class="n" x="995" y="297">9</text>
<text class="m" x="373" y="821" textLength="26" lengthAdjust="spacingAndGlyphs">15</text>
<text class="m" x="518" y="821" textLength="26" lengthAdjust="spacingAndGlyphs">14</text>
<text class="m" x="771" y="821" textLength="26" lengthAdjust="spacingAndGlyphs">13</text>
<text class="m" x="908" y="821" textLength="26" lengthAdjust="spacingAndGlyphs">12</text>
</g>

<!-- ============ elevation labels ============ -->
<g text-anchor="middle">
<text class="e" x="318" y="5" textLength="20" lengthAdjust="spacingAndGlyphs">1276.5</text>
<text class="e" x="428" y="5" textLength="20" lengthAdjust="spacingAndGlyphs">1276.5</text>
<text class="e" x="556" y="5" textLength="20" lengthAdjust="spacingAndGlyphs">1277.0</text>
<text class="e" x="209" y="403" textLength="20" lengthAdjust="spacingAndGlyphs">1278.80</text>
<text class="e" x="260" y="423" textLength="20" lengthAdjust="spacingAndGlyphs">1278.60</text>
<text class="e" x="308" y="457" textLength="20" lengthAdjust="spacingAndGlyphs">1278.40</text>
<text class="e" x="248" y="474" textLength="20" lengthAdjust="spacingAndGlyphs">1279.15</text>
<text class="e" x="343" y="492" textLength="20" lengthAdjust="spacingAndGlyphs">1278.60</text>
<text class="e" x="403" y="492" textLength="20" lengthAdjust="spacingAndGlyphs">1278.15</text>
<text class="e" x="388" y="510" textLength="18" lengthAdjust="spacingAndGlyphs">1278.1</text>
<text class="e" x="127" y="502" textLength="20" lengthAdjust="spacingAndGlyphs">1278.60</text>
<text class="e" x="115" y="577" textLength="20" lengthAdjust="spacingAndGlyphs">1278.00</text>
<text class="e" x="216" y="592" textLength="20" lengthAdjust="spacingAndGlyphs">1278.80</text>
<text class="e" x="294" y="623" textLength="20" lengthAdjust="spacingAndGlyphs">1278.60</text>
<text class="e" x="335" y="646" textLength="20" lengthAdjust="spacingAndGlyphs">1278.40</text>
<text class="e" x="397" y="648" textLength="20" lengthAdjust="spacingAndGlyphs">1278.10</text>
<text class="e" x="503" y="676" textLength="20" lengthAdjust="spacingAndGlyphs">1282.00</text>
<text class="e" x="179" y="706" textLength="20" lengthAdjust="spacingAndGlyphs">1277.40</text>
<text class="e" x="271" y="706" textLength="20" lengthAdjust="spacingAndGlyphs">1278.66</text>
<text class="e" x="397" y="706" textLength="20" lengthAdjust="spacingAndGlyphs">1280.16</text>
<text class="e" x="520" y="706" textLength="20" lengthAdjust="spacingAndGlyphs">1281.67</text>
<text class="e" x="645" y="706" textLength="20" lengthAdjust="spacingAndGlyphs">1283.17</text>
<text class="e" x="782" y="706" textLength="20" lengthAdjust="spacingAndGlyphs">1284.67</text>
<text class="e" x="848" y="706" textLength="20" lengthAdjust="spacingAndGlyphs">1284.70</text>
<text class="e" x="663" y="22" textLength="20" lengthAdjust="spacingAndGlyphs">1280.00</text>
<text class="e" x="604" y="31" textLength="20" lengthAdjust="spacingAndGlyphs">1280.00</text>
<text class="e" x="604" y="211" textLength="20" lengthAdjust="spacingAndGlyphs">1280.00</text>
<text class="e" x="634" y="221" textLength="20" lengthAdjust="spacingAndGlyphs">1280.00</text>
<text class="e" x="918" y="46" textLength="20" lengthAdjust="spacingAndGlyphs">1284.90</text>
<text class="e" x="928" y="80" textLength="20" lengthAdjust="spacingAndGlyphs">1284.60</text>
<text class="e" x="994" y="74" textLength="20" lengthAdjust="spacingAndGlyphs">1284.30</text>
<text class="e" x="926" y="177" textLength="20" lengthAdjust="spacingAndGlyphs">1285.45</text>
<text class="e" x="853" y="205" textLength="20" lengthAdjust="spacingAndGlyphs">1283.80</text>
<text class="e" x="826" y="232" textLength="20" lengthAdjust="spacingAndGlyphs">1283.00</text>
<text class="e" x="864" y="242" textLength="20" lengthAdjust="spacingAndGlyphs">1284.80</text>
<text class="e" x="804" y="266" textLength="20" lengthAdjust="spacingAndGlyphs">1282.30</text>
<text class="e" x="886" y="266" textLength="20" lengthAdjust="spacingAndGlyphs">1285.80</text>
<text class="e" x="829" y="288" textLength="20" lengthAdjust="spacingAndGlyphs">1283.60</text>
<text class="e" x="862" y="297" textLength="20" lengthAdjust="spacingAndGlyphs">1285.81</text>
<text class="e" x="904" y="292" textLength="20" lengthAdjust="spacingAndGlyphs">1285.61</text>
<text class="e" x="786" y="308" textLength="20" lengthAdjust="spacingAndGlyphs">1283.36</text>
<text class="e" x="810" y="321" textLength="20" lengthAdjust="spacingAndGlyphs">1283.86</text>
<text class="e" x="921" y="326" textLength="20" lengthAdjust="spacingAndGlyphs">1285.41</text>
<text class="e" x="736" y="338" textLength="20" lengthAdjust="spacingAndGlyphs">1282.00</text>
<text class="e" x="814" y="349" textLength="20" lengthAdjust="spacingAndGlyphs">1283.60</text>
<text class="e" x="843" y="373" textLength="20" lengthAdjust="spacingAndGlyphs">1283.90</text>
<text class="e" x="841" y="386" textLength="20" lengthAdjust="spacingAndGlyphs">1284.50</text>
<text class="e" x="883" y="386" textLength="20" lengthAdjust="spacingAndGlyphs">1285.70</text>
<text class="e" x="896" y="402" textLength="20" lengthAdjust="spacingAndGlyphs">1286.30</text>
<text class="e" x="888" y="417" textLength="20" lengthAdjust="spacingAndGlyphs">1286.00</text>
<text class="e" x="921" y="429" textLength="20" lengthAdjust="spacingAndGlyphs">1286.43</text>
<text class="e" x="888" y="442" textLength="20" lengthAdjust="spacingAndGlyphs">1286.50</text>
<text class="e" x="921" y="510" textLength="20" lengthAdjust="spacingAndGlyphs">1286.30</text>
<text class="e" x="855" y="534" textLength="20" lengthAdjust="spacingAndGlyphs">1285.75</text>
<text class="e" x="888" y="552" textLength="20" lengthAdjust="spacingAndGlyphs">1286.00</text>
<text class="e" x="828" y="558" textLength="20" lengthAdjust="spacingAndGlyphs">1283.40</text>
<text class="e" x="880" y="571" textLength="20" lengthAdjust="spacingAndGlyphs">1285.70</text>
<text class="e" x="926" y="570" textLength="20" lengthAdjust="spacingAndGlyphs">1286.27</text>
<text class="e" x="844" y="584" textLength="20" lengthAdjust="spacingAndGlyphs">1284.00</text>
<text class="e" x="782" y="598" textLength="20" lengthAdjust="spacingAndGlyphs">1283.50</text>
<text class="e" x="819" y="593" textLength="20" lengthAdjust="spacingAndGlyphs">1283.60</text>
<text class="e" x="888" y="595" textLength="20" lengthAdjust="spacingAndGlyphs">1286.25</text>
<text class="e" x="803" y="619" textLength="20" lengthAdjust="spacingAndGlyphs">1284.40</text>
<text class="e" x="926" y="619" textLength="20" lengthAdjust="spacingAndGlyphs">1286.05</text>
<text class="e" x="872" y="626" textLength="20" lengthAdjust="spacingAndGlyphs">1285.15</text>
<text class="e" x="548" y="658" textLength="20" lengthAdjust="spacingAndGlyphs">1282.20</text>
<text class="e" x="769" y="653" textLength="20" lengthAdjust="spacingAndGlyphs">1285.00</text>
<text class="e" x="812" y="656" textLength="20" lengthAdjust="spacingAndGlyphs">1284.40</text>
<text class="e" x="746" y="668" textLength="20" lengthAdjust="spacingAndGlyphs">1285.30</text>
<text class="e" x="806" y="670" textLength="20" lengthAdjust="spacingAndGlyphs">1285.30</text>
<text class="e" x="916" y="665" textLength="20" lengthAdjust="spacingAndGlyphs">1286.25</text>
<text class="e" x="548" y="683" textLength="20" lengthAdjust="spacingAndGlyphs">1281.80</text>
<text class="e" x="912" y="682" textLength="20" lengthAdjust="spacingAndGlyphs">1286.00</text>
<text class="e" x="870" y="690" textLength="20" lengthAdjust="spacingAndGlyphs">1285.30</text>
<text class="e" x="994" y="664" textLength="20" lengthAdjust="spacingAndGlyphs">1286.05</text>
<text class="e" x="994" y="701" textLength="20" lengthAdjust="spacingAndGlyphs">1286.50</text>
<text class="e" x="451" y="738" textLength="20" lengthAdjust="spacingAndGlyphs">1282.50</text>
<text class="e" x="486" y="738" textLength="20" lengthAdjust="spacingAndGlyphs">1282.50</text>
<text class="e" x="565" y="756" textLength="20" lengthAdjust="spacingAndGlyphs">1282.50</text>
<text class="e" x="605" y="756" textLength="20" lengthAdjust="spacingAndGlyphs">1285.50</text>
<text class="e" x="640" y="763" textLength="20" lengthAdjust="spacingAndGlyphs">1284.00</text>
<text class="e" x="446" y="905" textLength="20" lengthAdjust="spacingAndGlyphs">1282.50</text>
<text class="e" x="598" y="901" textLength="20" lengthAdjust="spacingAndGlyphs">1282.50</text>
<text class="e" x="465" y="942" textLength="20" lengthAdjust="spacingAndGlyphs">1282.50</text>
<text class="e" x="583" y="942" textLength="20" lengthAdjust="spacingAndGlyphs">1282.50</text>
<text class="e" x="350" y="971" textLength="20" lengthAdjust="spacingAndGlyphs">1279.00</text>
<text class="e" x="467" y="971" textLength="20" lengthAdjust="spacingAndGlyphs">1282.00</text>
<text class="e" x="549" y="971" textLength="20" lengthAdjust="spacingAndGlyphs">1282.20</text>
<text class="e" x="745" y="971" textLength="20" lengthAdjust="spacingAndGlyphs">1285.00</text>
<text class="e" x="905" y="971" textLength="20" lengthAdjust="spacingAndGlyphs">1285.20</text>
<text class="e" x="180" y="992" textLength="20" lengthAdjust="spacingAndGlyphs">1275.00</text>
<text class="d" x="155" y="549" textLength="11" lengthAdjust="spacingAndGlyphs">3000</text>
<text class="d" x="179" y="549" textLength="11" lengthAdjust="spacingAndGlyphs">6075</text>
<text class="d" x="240" y="549" textLength="13" lengthAdjust="spacingAndGlyphs">13000</text>
<text class="d" x="301" y="549" textLength="11" lengthAdjust="spacingAndGlyphs">6075</text>
<text class="d" x="331" y="549" textLength="11" lengthAdjust="spacingAndGlyphs">5500</text>
<text class="d" x="372" y="549" textLength="11" lengthAdjust="spacingAndGlyphs">4200</text>
<text class="d" x="397" y="549" textLength="11" lengthAdjust="spacingAndGlyphs">4550</text>
<text class="d" x="226" y="461" textLength="11" lengthAdjust="spacingAndGlyphs">2500</text>
<text class="d" x="244" y="461" textLength="11" lengthAdjust="spacingAndGlyphs">3000</text>
<text class="d" x="262" y="461" textLength="11" lengthAdjust="spacingAndGlyphs">2500</text>
<text class="d" x="244" y="447" textLength="11" lengthAdjust="spacingAndGlyphs">8000</text>
<text class="d" x="993" y="662" textLength="11" lengthAdjust="spacingAndGlyphs">9300</text>
<text class="d" x="958" y="662" textLength="11" lengthAdjust="spacingAndGlyphs">2960</text>
<text class="d" x="1040" y="662" textLength="11" lengthAdjust="spacingAndGlyphs">4160</text>
<text class="d" x="809" y="718" textLength="11" lengthAdjust="spacingAndGlyphs">3000</text>
<text class="d" x="828" y="718" textLength="11" lengthAdjust="spacingAndGlyphs">2700</text>
<text class="d" x="846" y="718" textLength="11" lengthAdjust="spacingAndGlyphs">3000</text>
<text class="d" x="640" y="806" textLength="11" lengthAdjust="spacingAndGlyphs">4200</text>
<text class="d" x="640" y="834" textLength="11" lengthAdjust="spacingAndGlyphs">2000</text>
<text class="d" x="640" y="918" textLength="11" lengthAdjust="spacingAndGlyphs">2000</text>
</g>
<g class="d">
<text transform="translate(916,330) rotate(-90)" textLength="11" lengthAdjust="spacingAndGlyphs">3000</text>
<text transform="translate(916,390) rotate(-90)" textLength="11" lengthAdjust="spacingAndGlyphs">6000</text>
<text transform="translate(916,465) rotate(-90)" textLength="13" lengthAdjust="spacingAndGlyphs">11290</text>
<text transform="translate(916,520) rotate(-90)" textLength="11" lengthAdjust="spacingAndGlyphs">5400</text>
<text transform="translate(916,570) rotate(-90)" textLength="11" lengthAdjust="spacingAndGlyphs">3000</text>
<text transform="translate(916,620) rotate(-90)" textLength="11" lengthAdjust="spacingAndGlyphs">2700</text>
<text transform="translate(916,690) rotate(-90)" textLength="11" lengthAdjust="spacingAndGlyphs">3000</text>
<text transform="translate(427,516) rotate(-90)" textLength="13" lengthAdjust="spacingAndGlyphs">10500</text>
<text transform="translate(1036,712) rotate(-90)" textLength="11" lengthAdjust="spacingAndGlyphs">7300</text>
<text transform="translate(627,790) rotate(-90)" textLength="11" lengthAdjust="spacingAndGlyphs">3700</text>
<text transform="translate(481,990) rotate(-90)" textLength="11" lengthAdjust="spacingAndGlyphs">2950</text>
<text transform="translate(155,515) rotate(-70)" textLength="11" lengthAdjust="spacingAndGlyphs">R3000</text>
<text transform="translate(190,930) rotate(-90)" textLength="11" lengthAdjust="spacingAndGlyphs">R1200</text>
</g>
<g fill="#000">
<use href="#tri" x="209" y="405"/><use href="#tri" x="260" y="425"/><use href="#tri" x="308" y="459"/><use href="#tri" x="248" y="476"/><use href="#tri" x="343" y="494"/><use href="#tri" x="127" y="504"/><use href="#tri" x="115" y="579"/><use href="#tri" x="216" y="594"/><use href="#tri" x="294" y="625"/><use href="#tri" x="335" y="648"/><use href="#tri" x="397" y="650"/><use href="#tri" x="503" y="678"/>
<use href="#tri" x="179" y="710"/><use href="#tri" x="271" y="710"/><use href="#tri" x="397" y="710"/><use href="#tri" x="520" y="710"/><use href="#tri" x="645" y="710"/><use href="#tri" x="782" y="710"/><use href="#tri" x="848" y="710"/>
<use href="#tri" x="918" y="48"/><use href="#tri" x="928" y="82"/><use href="#tri" x="994" y="76"/><use href="#tri" x="926" y="179"/><use href="#tri" x="853" y="207"/><use href="#tri" x="826" y="234"/><use href="#tri" x="864" y="244"/><use href="#tri" x="804" y="268"/><use href="#tri" x="886" y="268"/><use href="#tri" x="736" y="340"/><use href="#tri" x="921" y="328"/>
<use href="#tri" x="565" y="760"/><use href="#tri" x="605" y="760"/><use href="#tri" x="446" y="907"/><use href="#tri" x="598" y="903"/><use href="#tri" x="350" y="976"/><use href="#tri" x="467" y="976"/><use href="#tri" x="549" y="976"/><use href="#tri" x="745" y="976"/><use href="#tri" x="905" y="976"/><use href="#tri" x="180" y="994"/>
</g>

<!-- ============ coordinate labels ============ -->
<g class="c">
<text x="217" y="385" textLength="40" lengthAdjust="spacingAndGlyphs">X=2952380.110</text><text x="217" y="392" textLength="40" lengthAdjust="spacingAndGlyphs">Y=360905.192</text>
<text x="213" y="430" textLength="40" lengthAdjust="spacingAndGlyphs">X=2952372.975</text><text x="213" y="437" textLength="40" lengthAdjust="spacingAndGlyphs">Y=360909.659</text>
<text x="187" y="465" textLength="40" lengthAdjust="spacingAndGlyphs">X=2952363.151</text><text x="187" y="472" textLength="40" lengthAdjust="spacingAndGlyphs">Y=360896.899</text>
<text x="297" y="472" textLength="40" lengthAdjust="spacingAndGlyphs">X=2952362.651</text><text x="297" y="479" textLength="40" lengthAdjust="spacingAndGlyphs">Y=360913.473</text>
<text x="353" y="433" textLength="40" lengthAdjust="spacingAndGlyphs">X=2952367.428</text><text x="353" y="440" textLength="40" lengthAdjust="spacingAndGlyphs">Y=360914.520</text>
<text x="392" y="459" textLength="40" lengthAdjust="spacingAndGlyphs">X=2952365.901</text><text x="392" y="466" textLength="40" lengthAdjust="spacingAndGlyphs">Y=360916.973</text>
<text x="88" y="482" textLength="40" lengthAdjust="spacingAndGlyphs">X=2952363.630</text><text x="88" y="489" textLength="40" lengthAdjust="spacingAndGlyphs">Y=360885.305</text>
<text x="93" y="537" textLength="40" lengthAdjust="spacingAndGlyphs">X=2952357.630</text><text x="93" y="544" textLength="40" lengthAdjust="spacingAndGlyphs">Y=360886.347</text>
<text x="295" y="533" textLength="40" lengthAdjust="spacingAndGlyphs">X=2952358.651</text><text x="295" y="540" textLength="40" lengthAdjust="spacingAndGlyphs">Y=360913.473</text>
<text x="392" y="568" textLength="40" lengthAdjust="spacingAndGlyphs">X=2952355.401</text><text x="392" y="575" textLength="40" lengthAdjust="spacingAndGlyphs">Y=360918.973</text>
<text x="170" y="566" textLength="40" lengthAdjust="spacingAndGlyphs">X=2952358.151</text><text x="170" y="573" textLength="40" lengthAdjust="spacingAndGlyphs">Y=360896.899</text>
<text x="266" y="583" textLength="40" lengthAdjust="spacingAndGlyphs">X=2952349.036</text><text x="266" y="590" textLength="40" lengthAdjust="spacingAndGlyphs">Y=360912.791</text>
<text x="268" y="639" textLength="40" lengthAdjust="spacingAndGlyphs">X=2952343.721</text><text x="268" y="646" textLength="40" lengthAdjust="spacingAndGlyphs">Y=360913.715</text>
<text x="300" y="667" textLength="40" lengthAdjust="spacingAndGlyphs">X=2952338.356</text><text x="300" y="674" textLength="40" lengthAdjust="spacingAndGlyphs">Y=360916.353</text>
<text x="432" y="680" textLength="40" lengthAdjust="spacingAndGlyphs">X=2952336.049</text><text x="432" y="687" textLength="40" lengthAdjust="spacingAndGlyphs">Y=360924.212</text>
<text x="478" y="662" textLength="40" lengthAdjust="spacingAndGlyphs">X=2952332.585</text><text x="478" y="669" textLength="40" lengthAdjust="spacingAndGlyphs">Y=360933.852</text>
<text x="826" y="261" textLength="40" lengthAdjust="spacingAndGlyphs">X=2952393.683</text><text x="826" y="268" textLength="40" lengthAdjust="spacingAndGlyphs">Y=361003.750</text>
<text x="946" y="300" textLength="40" lengthAdjust="spacingAndGlyphs">X=2952367.684</text><text x="946" y="307" textLength="40" lengthAdjust="spacingAndGlyphs">Y=361005.750</text>
<text x="829" y="400" textLength="40" lengthAdjust="spacingAndGlyphs">X=2952381.685</text><text x="829" y="407" textLength="40" lengthAdjust="spacingAndGlyphs">Y=361000.749</text>
<text x="836" y="422" textLength="40" lengthAdjust="spacingAndGlyphs">X=2952379.397</text><text x="836" y="429" textLength="40" lengthAdjust="spacingAndGlyphs">Y=361003.750</text>
<text x="944" y="458" textLength="40" lengthAdjust="spacingAndGlyphs">X=2952354.697</text><text x="944" y="465" textLength="40" lengthAdjust="spacingAndGlyphs">Y=361006.750</text>
<text x="839" y="542" textLength="40" lengthAdjust="spacingAndGlyphs">X=2952358.951</text><text x="839" y="549" textLength="40" lengthAdjust="spacingAndGlyphs">Y=361004.750</text>
<text x="836" y="571" textLength="40" lengthAdjust="spacingAndGlyphs">X=2952346.884</text><text x="836" y="578" textLength="40" lengthAdjust="spacingAndGlyphs">Y=361002.750</text>
<text x="839" y="594" textLength="40" lengthAdjust="spacingAndGlyphs">X=2952343.821</text><text x="839" y="601" textLength="40" lengthAdjust="spacingAndGlyphs">Y=360994.202</text>
<text x="528" y="639" textLength="40" lengthAdjust="spacingAndGlyphs">X=2952341.883</text><text x="528" y="646" textLength="40" lengthAdjust="spacingAndGlyphs">Y=360941.731</text>
<text x="600" y="647" textLength="40" lengthAdjust="spacingAndGlyphs">X=2952342.513</text><text x="600" y="654" textLength="40" lengthAdjust="spacingAndGlyphs">Y=360956.184</text>
<text x="614" y="668" textLength="40" lengthAdjust="spacingAndGlyphs">X=2952339.402</text><text x="614" y="675" textLength="40" lengthAdjust="spacingAndGlyphs">Y=360969.185</text>
<text x="676" y="682" textLength="40" lengthAdjust="spacingAndGlyphs">X=2952340.347</text><text x="676" y="689" textLength="40" lengthAdjust="spacingAndGlyphs">Y=360976.846</text>
<text x="779" y="682" textLength="40" lengthAdjust="spacingAndGlyphs">X=2952331.664</text><text x="779" y="689" textLength="40" lengthAdjust="spacingAndGlyphs">Y=360988.050</text>
<text x="855" y="702" textLength="40" lengthAdjust="spacingAndGlyphs">X=2952333.316</text><text x="855" y="709" textLength="40" lengthAdjust="spacingAndGlyphs">Y=361002.099</text>
<text x="961" y="654" textLength="40" lengthAdjust="spacingAndGlyphs">X=2952334.656</text><text x="961" y="661" textLength="40" lengthAdjust="spacingAndGlyphs">Y=361009.367</text>
<text x="926" y="724" textLength="40" lengthAdjust="spacingAndGlyphs">X=2952331.013</text><text x="926" y="731" textLength="40" lengthAdjust="spacingAndGlyphs">Y=361007.798</text>
<text x="566" y="722" textLength="40" lengthAdjust="spacingAndGlyphs">X=2952325.663</text><text x="566" y="729" textLength="40" lengthAdjust="spacingAndGlyphs">Y=360960.191</text>
<text x="671" y="722" textLength="40" lengthAdjust="spacingAndGlyphs">X=2952325.663</text><text x="671" y="729" textLength="40" lengthAdjust="spacingAndGlyphs">Y=360965.190</text>
<text x="575" y="861" textLength="40" lengthAdjust="spacingAndGlyphs">X=2952303.972</text><text x="575" y="868" textLength="40" lengthAdjust="spacingAndGlyphs">Y=360963.392</text>
<text x="598" y="989" textLength="40" lengthAdjust="spacingAndGlyphs">X=2952288.069</text><text x="598" y="996" textLength="40" lengthAdjust="spacingAndGlyphs">Y=360956.113</text>
<text x="693" y="989" textLength="40" lengthAdjust="spacingAndGlyphs">X=2952288.069</text><text x="693" y="996" textLength="40" lengthAdjust="spacingAndGlyphs">Y=360963.272</text>
<text x="1067" y="733" textLength="40" lengthAdjust="spacingAndGlyphs">X=2952328.429</text><text x="1067" y="740" textLength="40" lengthAdjust="spacingAndGlyphs">Y=361022.941</text>
<text x="1000" y="737" textLength="40" lengthAdjust="spacingAndGlyphs">X=2952329.429</text><text x="1000" y="744" textLength="40" lengthAdjust="spacingAndGlyphs">Y=361018.568</text>
<text x="1065" y="781" textLength="40" lengthAdjust="spacingAndGlyphs">X=2952323.873</text><text x="1065" y="788" textLength="40" lengthAdjust="spacingAndGlyphs">Y=361021.288</text>
<text x="1061" y="808" textLength="40" lengthAdjust="spacingAndGlyphs">X=2952319.070</text><text x="1061" y="815" textLength="40" lengthAdjust="spacingAndGlyphs">Y=361020.373</text>
<text x="1075" y="825" textLength="40" lengthAdjust="spacingAndGlyphs">X=2952314.405</text><text x="1075" y="832" textLength="40" lengthAdjust="spacingAndGlyphs">Y=361022.169</text>
<text x="1069" y="853" textLength="40" lengthAdjust="spacingAndGlyphs">X=2952309.770</text><text x="1069" y="860" textLength="40" lengthAdjust="spacingAndGlyphs">Y=361024.146</text>
<text x="1065" y="881" textLength="40" lengthAdjust="spacingAndGlyphs">X=2952305.481</text><text x="1065" y="888" textLength="40" lengthAdjust="spacingAndGlyphs">Y=361022.523</text>
<text x="961" y="874" textLength="40" lengthAdjust="spacingAndGlyphs">X=2952300.671</text><text x="961" y="881" textLength="40" lengthAdjust="spacingAndGlyphs">Y=361020.968</text>
<text x="961" y="929" textLength="40" lengthAdjust="spacingAndGlyphs">X=2952295.966</text><text x="961" y="936" textLength="40" lengthAdjust="spacingAndGlyphs">Y=361022.449</text>
<text x="963" y="959" textLength="40" lengthAdjust="spacingAndGlyphs">X=2952290.731</text><text x="963" y="966" textLength="40" lengthAdjust="spacingAndGlyphs">Y=361022.862</text>
<text x="208" y="903" textLength="40" lengthAdjust="spacingAndGlyphs">X=2952294.489</text><text x="208" y="910" textLength="40" lengthAdjust="spacingAndGlyphs">Y=360893.104</text>
<text x="231" y="922" textLength="40" lengthAdjust="spacingAndGlyphs">X=2952291.244</text><text x="231" y="929" textLength="40" lengthAdjust="spacingAndGlyphs">Y=360895.674</text>
<text x="85" y="977" textLength="40" lengthAdjust="spacingAndGlyphs">X=2952283.853</text><text x="85" y="984" textLength="40" lengthAdjust="spacingAndGlyphs">Y=360868.519</text>
<text x="94" y="998" textLength="40" lengthAdjust="spacingAndGlyphs">X=2952281.445</text><text x="94" y="1005" textLength="40" lengthAdjust="spacingAndGlyphs">Y=360872.740</text>
<text x="109" y="1017" textLength="40" lengthAdjust="spacingAndGlyphs">X=2952275.028</text><text x="109" y="1024" textLength="40" lengthAdjust="spacingAndGlyphs">Y=360873.173</text>
<text x="120" y="1036" textLength="40" lengthAdjust="spacingAndGlyphs">X=2952274.315</text><text x="120" y="1043" textLength="40" lengthAdjust="spacingAndGlyphs">Y=360875.731</text>
</g>
<g fill="none" stroke="#000" stroke-width="0.45">
<path d="M217,386.5h40M213,431.5h40M187,466.5h40M297,473.5h40M353,434.5h40M392,460.5h40M88,483.5h40M93,538.5h40M295,534.5h40M392,569.5h40M170,567.5h40M266,584.5h40M268,640.5h40M300,668.5h40M432,681.5h40M478,663.5h40M826,262.5h40M946,301.5h40M829,401.5h40M836,423.5h40M944,459.5h40M839,543.5h40M836,572.5h40M839,595.5h40M528,640.5h40M600,648.5h40M614,669.5h40M676,683.5h40M779,683.5h40M855,703.5h40M961,655.5h40M926,725.5h40M566,723.5h40M671,723.5h40M575,862.5h40M598,990.5h40M693,990.5h40M1067,734.5h40M1000,738.5h40M1065,782.5h40M1061,809.5h40M1075,826.5h40M1069,854.5h40M1065,882.5h40M961,875.5h40M961,930.5h40M963,960.5h40M208,904.5h40M231,923.5h40M85,978.5h40M94,999.5h40M109,1018.5h40M120,1037.5h40"/>
<path d="M257,386.5L268,366M128,483.5L143,495M133,538.5L145,525M353,434.5L345,455M392,460.5L385,480M432,681.5L410,665M1017,738.5L1006,722M1067,734.5L1020,705M1065,782.5L1016,742M1061,809.5L1020,780M1075,826.5L1025,795M1069,854.5L1020,820M1065,882.5L1012,860M1001,874.5L1010,870M248,904.5L235,946M271,923.5L262,930"/>
</g>
</svg>
</body></html>
